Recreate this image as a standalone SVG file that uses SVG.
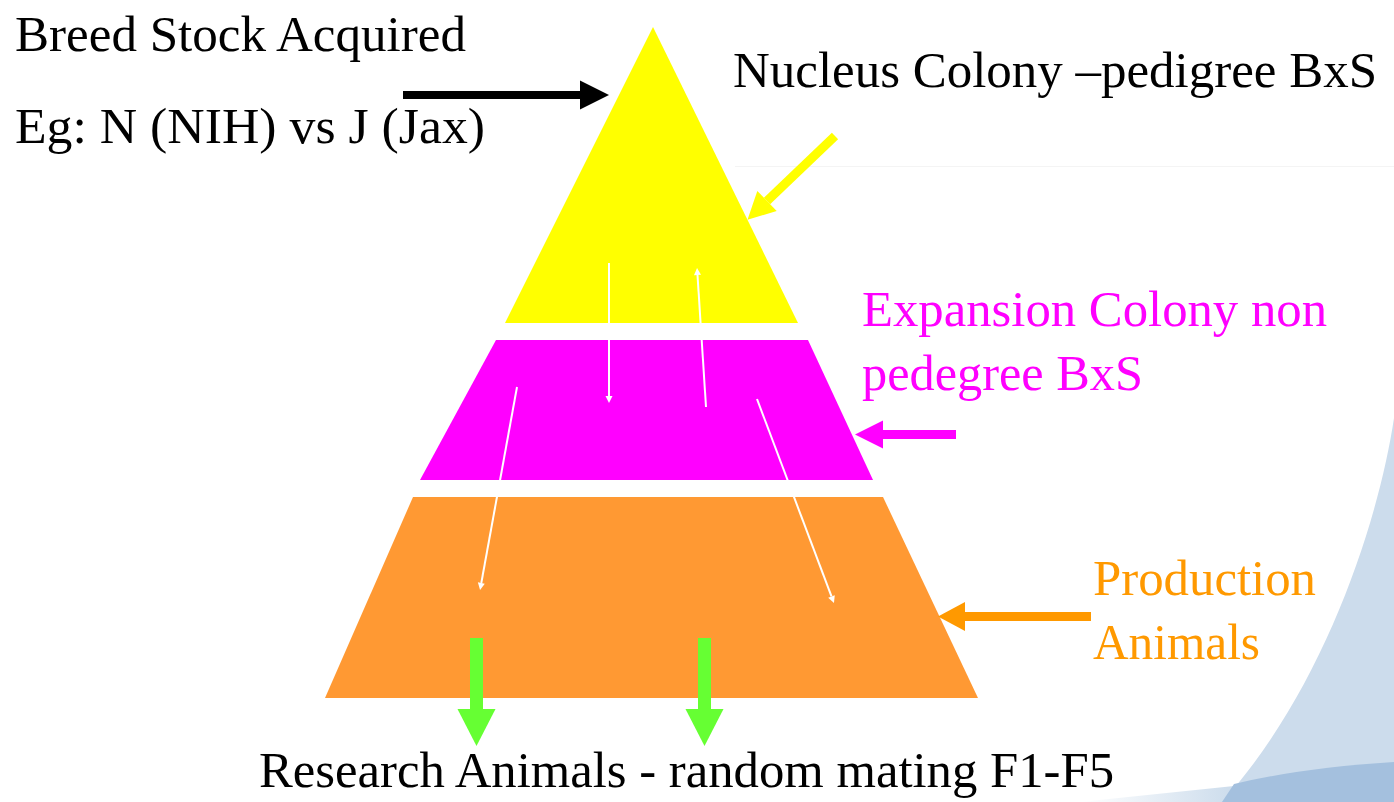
<svg xmlns="http://www.w3.org/2000/svg" width="1394" height="802" viewBox="0 0 1394 802">
  <style>
    text { font-family: 'Liberation Serif', 'Times New Roman', Times, 'Tinos', 'DejaVu Serif', 'Noto Serif', 'FreeSerif', serif; font-size: 50px; }
    .blk { fill: #000000; }
    .mag { fill: #FF00FF; }
    .org { fill: #FF9900; }
    .wline { stroke: #FFFFFF; stroke-width: 2; fill: none; }
  </style>
  <defs>
    <linearGradient id="streak" x1="0" y1="0" x2="1" y2="0">
      <stop offset="0" stop-color="#CCDCEC" stop-opacity="0"/>
      <stop offset="1" stop-color="#CCDCEC" stop-opacity="1"/>
    </linearGradient>
    <marker id="hBlack" markerUnits="userSpaceOnUse" markerWidth="30" markerHeight="30" refX="0" refY="14.5" orient="auto" overflow="visible">
      <path d="M0,0 L29,14.5 L0,29 Z" fill="#000000"/>
    </marker>
    <marker id="hYellow" markerUnits="userSpaceOnUse" markerWidth="30" markerHeight="30" refX="0" refY="14" orient="auto" overflow="visible">
      <path d="M0,0 L27,14 L0,28 Z" fill="#FFFF00"/>
    </marker>
    <marker id="hMag" markerUnits="userSpaceOnUse" markerWidth="30" markerHeight="30" refX="0" refY="14" orient="auto" overflow="visible">
      <path d="M0,0 L28,14 L0,28 Z" fill="#FF00FF"/>
    </marker>
    <marker id="hOrg" markerUnits="userSpaceOnUse" markerWidth="30" markerHeight="30" refX="0" refY="14.5" orient="auto" overflow="visible">
      <path d="M0,0 L27,14.5 L0,29 Z" fill="#FF9900"/>
    </marker>
    <marker id="hGreen" markerUnits="userSpaceOnUse" markerWidth="40" markerHeight="40" refX="0" refY="19" orient="auto" overflow="visible">
      <path d="M0,0 L37,19 L0,38 Z" fill="#66FF33"/>
    </marker>
    <marker id="hWhite" markerUnits="userSpaceOnUse" markerWidth="10" markerHeight="10" refX="0" refY="3.5" orient="auto" overflow="visible">
      <path d="M0,0 L7,3.5 L0,7 Z" fill="#FFFFFF"/>
    </marker>
  </defs>

  <!-- background -->
  <g id="background">
    <rect x="0" y="0" width="1394" height="802" fill="#FFFFFF"/>
    <line x1="735" y1="166.5" x2="1394" y2="166.5" stroke="#F4F4F4" stroke-width="1"/>
    <path d="M1394,418 C1378,525 1322,692 1222,802 L1394,802 Z" fill="#CCDCEC"/>
    <path d="M1080,802 L1234,786 L1224,802 Z" fill="url(#streak)"/>
    <path d="M1222,802 L1234,784 Q1300,768 1394,762 L1394,802 Z" fill="#A4C0DE"/>
  </g>

  <!-- pyramid layers -->
  <g id="nucleus-colony">
    <polygon points="653,27 798,323 505,323" fill="#FFFF00"/>
  </g>
  <g id="expansion-colony">
    <polygon points="496,340 808,340 873,480 420,480" fill="#FF00FF"/>
  </g>
  <g id="production-animals">
    <polygon points="413,497 883,497 978,698 325,698" fill="#FF9933"/>
  </g>

  <!-- connectors -->
  <g id="connectors">
    <line x1="403" y1="95" x2="580" y2="95" stroke="#000000" stroke-width="8" marker-end="url(#hBlack)"/>
    <line x1="835" y1="136" x2="767" y2="201" stroke="#FFFF00" stroke-width="9" marker-end="url(#hYellow)"/>
    <line x1="956" y1="434.5" x2="883" y2="434.5" stroke="#FF00FF" stroke-width="9" marker-end="url(#hMag)"/>
    <line x1="1091" y1="616.5" x2="965" y2="616.5" stroke="#FF9900" stroke-width="9" marker-end="url(#hOrg)"/>
    <line x1="476.5" y1="638" x2="476.5" y2="709" stroke="#66FF33" stroke-width="13" marker-end="url(#hGreen)"/>
    <line x1="704.5" y1="638" x2="704.5" y2="709" stroke="#66FF33" stroke-width="13" marker-end="url(#hGreen)"/>
    <line class="wline" x1="609" y1="263" x2="609" y2="396" marker-end="url(#hWhite)"/>
    <line class="wline" x1="706" y1="407" x2="697.5" y2="275" marker-end="url(#hWhite)"/>
    <line class="wline" x1="517" y1="387" x2="481.3" y2="583" marker-end="url(#hWhite)"/>
    <line class="wline" x1="757" y1="399" x2="831.5" y2="596.4" marker-end="url(#hWhite)"/>
  </g>

  <!-- labels -->
  <g id="label-breed-stock">
    <text class="blk" x="15" y="51" textLength="451" lengthAdjust="spacingAndGlyphs">Breed Stock Acquired</text>
    <text class="blk" x="15" y="143" textLength="470" lengthAdjust="spacingAndGlyphs">Eg: N (NIH)  vs J (Jax)</text>
  </g>
  <g id="label-nucleus">
    <text class="blk" x="733" y="87" textLength="644" lengthAdjust="spacingAndGlyphs">Nucleus Colony –pedigree BxS</text>
  </g>
  <g id="label-expansion">
    <text class="mag" x="862" y="326" textLength="465" lengthAdjust="spacingAndGlyphs">Expansion Colony non</text>
    <text class="mag" x="862" y="390" textLength="281" lengthAdjust="spacingAndGlyphs">pedegree BxS</text>
  </g>
  <g id="label-production">
    <text class="org" x="1093" y="595" textLength="223" lengthAdjust="spacingAndGlyphs">Production</text>
    <text class="org" x="1093" y="659" textLength="167" lengthAdjust="spacingAndGlyphs">Animals</text>
  </g>
  <g id="label-research">
    <text class="blk" x="259" y="787" textLength="855" lengthAdjust="spacingAndGlyphs">Research Animals - random mating F1-F5</text>
  </g>
</svg>
